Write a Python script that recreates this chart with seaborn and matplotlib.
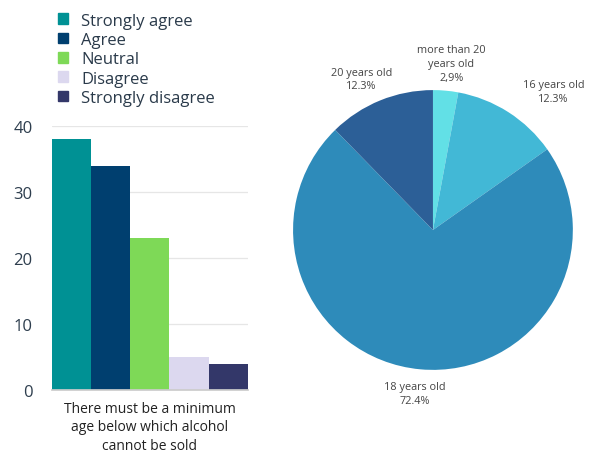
import matplotlib
matplotlib.use("Agg")
import matplotlib.pyplot as plt
import seaborn as sns
import pandas as pd

responses = ["Strongly agree", "Agree", "Neutral", "Disagree", "Strongly disagree"]
counts = [38, 34, 23, 5, 4]
bar_colors = ["#009194", "#003f6f", "#7ed957", "#dcd8ef", "#333769"]
question = "There must be a minimum\nage below which alcohol\ncannot be sold"

age_labels = ["more than 20\nyears old", "16 years old", "18 years old", "20 years old"]
age_shares = [2.9, 12.3, 72.4, 12.3]
age_share_text = ["2,9%", "12.3%", "72.4%", "12.3%"]
pie_colors = ["#62e0e6", "#42b8d6", "#2e8bba", "#2c5f97"]

sns.set_theme(style="white")
plt.rcParams["font.family"] = ["Open Sans", "DejaVu Sans"]

fig = plt.figure(figsize=(6.03, 4.60), dpi=100)

# Grouped bar chart
ax = fig.add_axes([0.086, 0.150, 0.325, 0.574])
df = pd.DataFrame({"question": [question] * len(responses),
                   "response": responses, "count": counts})
sns.barplot(data=df, x="question", y="count", hue="response",
            hue_order=responses, palette=bar_colors, width=1.0,
            saturation=1, linewidth=0, ax=ax, legend=False)
ax.set_ylim(0, 40)
ax.set_xlim(-0.5, 0.5)
ax.set_yticks([0, 10, 20, 30, 40])
ax.yaxis.grid(True, color="#e6e6e6", linewidth=0.9)
ax.set_axisbelow(True)
for s in ["top", "right", "left"]:
    ax.spines[s].set_visible(False)
ax.spines["bottom"].set_color("#cccccc")
ax.set_xlabel("")
ax.set_ylabel("")
ax.tick_params(axis="y", length=0, labelsize=12, labelcolor="#2e3e4e", pad=14)
ax.tick_params(axis="x", length=0, labelsize=10, labelcolor="#222222", pad=8)
for t in ax.get_xticklabels():
    t.set_linespacing(1.3)

# Legend
handles = [plt.Rectangle((0, 0), 1, 1, color=c) for c in bar_colors]
fig.legend(handles, responses, loc="upper left", bbox_to_anchor=(0.072, 1.003),
           frameon=False, fontsize=12, handlelength=0.6, handleheight=0.6,
           handletextpad=0.75, labelspacing=0.2, labelcolor="#2a3a4a")

# Pie chart of ages
pax = fig.add_axes([0.486, 0.1935, 0.464, 0.6087])
wedges, _ = pax.pie(age_shares, colors=pie_colors, startangle=90,
                    counterclock=False, radius=1.0,
                    wedgeprops=dict(linewidth=0))
pax.set_xlim(-1, 1)
pax.set_ylim(-1, 1)
pax.set_aspect("equal")
label_pos = [(0.13, 1.19), (0.86, 0.99), (-0.13, -1.17), (-0.51, 1.08)]
for (x, y), lab, pct in zip(label_pos, age_labels, age_share_text):
    pax.text(x, y, f"{lab}\n{pct}", ha="center", va="center", fontsize=7.8,
             color="#444444", linespacing=1.35)

fig.savefig("out.png", dpi=100)
